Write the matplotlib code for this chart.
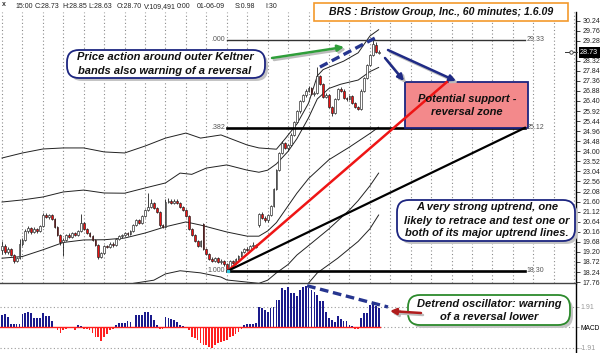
import matplotlib
matplotlib.use("Agg")
import matplotlib.pyplot as plt
from matplotlib.patches import FancyBboxPatch, Rectangle, FancyArrowPatch
import numpy as np

plt.rcParams['font.family'] = ['Liberation Sans', 'DejaVu Sans']

# ---------------- data: BRS 60-minute bars ----------------
opens = [19.30, 19.50, 19.20, 19.35, 19.05, 18.75, 18.90, 19.60, 19.75, 20.20,
         20.35, 20.15, 20.30, 20.20, 20.45, 20.95, 20.85, 20.95, 20.75, 20.40,
         20.00, 19.65, 19.75, 20.00, 19.90, 20.10, 20.00, 20.20, 20.60, 20.30,
         20.10, 19.95, 19.75, 19.55, 18.95, 19.15, 19.50, 19.45, 19.60, 19.55,
         19.80, 19.95, 20.00, 20.10, 20.05, 20.20, 20.50, 20.70, 20.60, 20.90,
         21.20, 21.35, 21.55, 21.30, 21.10, 20.50, 20.40, 21.60, 21.65, 21.55,
         21.65, 21.55, 21.35, 21.20, 20.90, 20.30, 20.00, 19.70, 19.50, 20.55,
         19.35, 19.10, 18.85, 18.75, 18.90, 18.70, 18.75, 18.60, 18.40, 18.75,
         18.65, 18.85, 19.00, 19.20, 19.35, 19.30, 19.50, 19.55, 20.50, 21.00,
         20.80, 20.70, 20.95, 21.40, 22.20, 23.10, 23.90, 24.40, 24.15, 24.30,
         24.80, 25.40, 25.90, 26.40, 26.70, 26.90, 27.00, 26.75, 26.80, 27.60,
         27.20, 26.60, 26.70, 26.10, 25.85, 26.50, 26.95, 26.90, 26.55, 26.50,
         26.65, 26.30, 26.10, 26.00, 26.90, 27.50, 28.10, 28.60, 29.05, 28.70]
highs = [19.70, 19.60, 19.45, 19.40, 19.10, 18.95, 19.80, 19.85, 20.30, 20.45,
         20.40, 20.40, 20.35, 20.50, 21.05, 21.05, 21.00, 21.00, 20.80, 20.45,
         20.05, 19.85, 20.05, 20.10, 20.15, 20.15, 20.25, 21.00, 20.65, 20.35,
         20.15, 20.00, 19.80, 19.60, 19.20, 19.55, 19.55, 19.65, 19.65, 19.85,
         20.00, 20.05, 20.15, 20.15, 20.25, 20.55, 20.75, 20.75, 20.95, 21.25,
         22.00, 21.70, 21.60, 21.35, 21.15, 20.55, 21.70, 21.75, 21.70, 21.70,
         21.70, 21.60, 21.40, 21.25, 20.95, 20.35, 20.05, 19.75, 19.75, 20.60,
         19.40, 19.15, 18.95, 18.95, 18.95, 18.85, 18.80, 18.65, 18.80, 18.80,
         18.90, 19.05, 19.25, 19.40, 19.45, 19.55, 19.65, 19.60, 21.05, 21.10,
         20.90, 21.00, 21.45, 22.25, 23.15, 23.95, 24.50, 24.45, 24.35, 24.85,
         25.45, 25.95, 26.45, 26.75, 26.95, 27.10, 27.05, 26.90, 28.00, 27.65,
         27.25, 26.80, 26.75, 26.15, 26.55, 27.00, 27.05, 26.95, 26.60, 26.70,
         26.70, 26.35, 26.15, 26.95, 27.55, 28.15, 28.65, 29.33, 29.20, 28.85]
lows = [19.10, 19.10, 19.10, 19.00, 18.65, 18.70, 18.85, 19.50, 19.70, 20.10,
        20.05, 20.10, 20.10, 20.15, 20.40, 20.80, 20.75, 20.70, 20.35, 19.95,
        19.55, 19.00, 19.70, 19.85, 19.85, 19.95, 19.95, 20.15, 20.25, 20.05,
        19.90, 19.70, 19.50, 18.85, 18.90, 19.10, 19.40, 19.40, 19.45, 19.50,
        19.75, 19.85, 19.95, 19.95, 20.00, 20.15, 20.45, 20.55, 20.55, 20.85,
        21.15, 21.30, 21.25, 21.05, 20.40, 20.35, 20.35, 21.55, 21.50, 21.50,
        21.50, 21.30, 21.15, 20.85, 20.25, 19.95, 19.65, 19.45, 19.45, 19.30,
        19.05, 18.80, 18.70, 18.70, 18.65, 18.60, 18.55, 18.30, 18.35, 18.60,
        18.60, 18.80, 18.95, 19.15, 19.25, 19.25, 19.45, 19.40, 20.40, 20.75,
        20.65, 20.65, 20.90, 21.35, 22.15, 23.05, 23.85, 24.10, 24.05, 24.25,
        24.75, 25.35, 25.85, 26.35, 26.60, 26.85, 26.70, 26.65, 26.75, 27.15,
        26.55, 26.55, 26.05, 25.70, 25.80, 26.45, 26.85, 26.50, 26.40, 26.45,
        26.25, 26.05, 25.95, 25.95, 26.85, 27.45, 28.05, 28.55, 28.70, 28.63]
closes = [19.50, 19.20, 19.35, 19.05, 18.75, 18.90, 19.60, 19.75, 20.20, 20.35,
          20.15, 20.30, 20.20, 20.45, 20.95, 20.85, 20.95, 20.75, 20.40, 20.00,
          19.65, 19.75, 20.00, 19.90, 20.10, 20.00, 20.20, 20.60, 20.30, 20.10,
          19.95, 19.75, 19.55, 18.95, 19.15, 19.50, 19.45, 19.60, 19.55, 19.80,
          19.95, 20.00, 20.10, 20.05, 20.20, 20.50, 20.70, 20.60, 20.90, 21.20,
          21.35, 21.55, 21.30, 21.10, 20.50, 20.40, 21.60, 21.65, 21.55, 21.65,
          21.55, 21.35, 21.20, 20.90, 20.30, 20.00, 19.70, 19.50, 19.70, 19.35,
          19.10, 18.85, 18.75, 18.90, 18.70, 18.75, 18.60, 18.40, 18.75, 18.65,
          18.85, 19.00, 19.20, 19.35, 19.30, 19.50, 19.55, 19.45, 21.00, 20.80,
          20.70, 20.95, 21.40, 22.20, 23.10, 23.90, 24.40, 24.15, 24.30, 24.80,
          25.40, 25.90, 26.40, 26.70, 26.90, 27.00, 26.75, 26.80, 27.60, 27.20,
          26.60, 26.70, 26.10, 25.85, 26.50, 26.95, 26.90, 26.55, 26.50, 26.65,
          26.30, 26.10, 26.00, 26.90, 27.50, 28.10, 28.60, 29.10, 28.75, 28.73]

# detrend (MACD) oscillator histogram
hist = [1.15, 1.25, 0.95, 0.31, 0.31, 0.31, 0.31, 1.25, 1.37, 1.46,
        1.37, 0.84, 0.84, 0.84, 1.37, 1.05, 1.05, 0.62, 0.02, -0.25,
        -0.50, -0.25, -0.12, 0.00, 0.00, -0.25, 0.22, 0.15, -0.12, -0.18,
        -0.25, -0.55, -0.87, -0.93, -1.24, -0.87, -0.60, -0.25, -0.20, 0.22,
        0.44, 0.44, 0.44, 0.62, 0.50, 0.02, 1.15, 1.15, 1.15, 1.46,
        1.46, 1.15, 0.68, 0.22, -0.20, -0.20, 0.93, 0.84, 0.75, 0.68,
        0.52, 0.20, 0.10, -0.10, -0.25, -0.87, -1.00, -1.20, -1.45, -1.65,
        -1.65, -1.85, -1.96, -1.65, -1.50, -1.35, -1.30, -1.20, -0.90, -0.80,
        -0.60, -0.40, -0.15, 0.22, 0.31, 0.31, 0.31, 0.44, 1.87, 1.75,
        1.60, 1.46, 1.80, 1.90, 2.55, 2.55, 3.60, 3.50, 3.70, 3.20,
        3.15, 2.90, 3.50, 3.75, 3.85, 3.60, 3.45, 3.30, 3.00, 2.40,
        2.40, 1.46, 0.84, 0.70, 0.52, 1.05, 0.75, 0.60, 0.60, 0.21,
        0.10, -0.20, -0.20, 0.84, 1.30, 1.30, 2.08, 2.15, 2.00, 1.80]

# Keltner band lines (bar index, price)
kel_up2_i = [0, 7, 14, 21, 28, 35, 42, 49, 56, 63, 68, 75, 84, 88, 94, 97, 101, 105, 108, 110, 117, 122, 126, 129]
kel_up2_v = [23.68, 23.92, 24.11, 24.16, 24.16, 23.97, 23.92, 24.25, 24.63, 24.87, 24.63, 24.78, 24.30, 24.16,
             24.10, 24.60, 25.30, 26.30, 27.60, 27.90, 28.30, 28.70, 29.50, 29.80]
kel_up1_i = [0, 7, 14, 21, 28, 35, 42, 49, 56, 61, 65, 70, 77, 84, 88, 91, 94, 98, 101, 105, 108, 112, 116, 122, 126, 129]
kel_up1_v = [21.58, 21.68, 21.82, 22.06, 22.15, 22.01, 22.00, 22.25, 22.49, 22.96, 22.90, 23.20, 23.35, 23.10,
             23.00, 23.10, 23.40, 24.00, 24.60, 25.60, 26.50, 27.00, 27.20, 27.40, 27.80, 28.00]
kel_mid_i = [0, 7, 14, 21, 28, 35, 42, 49, 56, 63, 68, 77, 84, 88, 91, 94, 98, 101, 105, 112, 119, 126, 129]
kel_mid_v = [18.90, 18.98, 19.30, 19.65, 19.77, 19.78, 19.86, 20.10, 20.40, 20.63, 20.48, 20.15, 19.95, 19.95,
             20.20, 20.60, 21.40, 22.00, 22.70, 23.60, 24.20, 24.85, 25.15]
kel_dn1_i = [0, 42, 45, 52, 56, 61, 68, 75, 77, 88, 91, 94, 98, 101, 105, 112, 119, 122, 126, 129]
kel_dn1_v = [17.00, 17.50, 17.70, 17.85, 18.15, 18.30, 18.20, 18.00, 17.86, 17.70, 17.85, 18.20, 18.60, 19.05,
             19.50, 20.30, 21.20, 21.65, 22.35, 22.96]
kel_dn2_i = [0, 91, 98, 104, 108, 115, 122, 126, 129]
kel_dn2_v = [15.50, 15.50, 16.60, 17.55, 18.20, 18.90, 19.70, 20.30, 20.96]

# Fibonacci retracement levels and trend-line anchors
fib_names = ['.000', '.382', '1.000']
fib_levels = [29.33, 25.12, 18.30]
fib_span = (77.0, 179.1)
low_pt = (77.4, 18.30)
red_end = (152.4, 27.31)
black_end = (179.1, 25.12)
price_dash = [(108.9, 28.02), (127.7, 29.40)]
osc_dash = [(104.5, 3.85), (132.2, 1.88)]
zone_x = (138.0, 180.1)
zone_y = (25.12, 27.31)

price_ticks = [30.24, 29.76, 29.28, 28.32, 27.84, 27.36, 26.88, 26.40, 25.92, 25.44, 24.96,
               24.48, 24.00, 23.52, 23.04, 22.56, 22.08, 21.60, 21.12, 20.64, 20.16, 19.68,
               19.20, 18.72, 18.24, 17.76]
last_price = 28.73
osc_level = 1.91

header = [("15:00", 15), ("C:28.73", 35), ("H:28.85", 62), ("L:28.63", 88), ("O:28.70", 117),
          ("V:109,491", 144), ("0:00", 177), ("01-06-09", 197), ("S:0.98", 235), ("I:30", 265)]

# ---------------- figure ----------------
W, H = 600, 353
fig = plt.figure(figsize=(6, 3.53), dpi=100)
XL = (-0.685, 196.6)

axp = fig.add_axes([0, 1 - 283 / H, 576 / W, (283 - 12) / H])
axm = fig.add_axes([0, 0, 576 / W, 69 / H])

n = len(closes)
idx = np.arange(n)
o = np.array(opens); c = np.array(closes); hi = np.array(highs); lo = np.array(lows)

# price panel
axp.set_xlim(*XL)
axp.set_ylim(17.716, 30.646)
for gx in range(0, 197, 7):
    axp.axvline(gx, color='#8c8c8c', lw=0.8, ls=(0, (1, 2.2)), zorder=0)

for xs, ys in [(kel_up2_i, kel_up2_v), (kel_up1_i, kel_up1_v), (kel_mid_i, kel_mid_v),
               (kel_dn1_i, kel_dn1_v), (kel_dn2_i, kel_dn2_v)]:
    axp.plot(xs, ys, color='#222222', lw=0.7, zorder=1)

axp.vlines(idx, lo, hi, color='#202020', lw=0.6, zorder=2)
up = c >= o
axp.bar(idx[up], (c - o)[up], bottom=o[up], width=0.62, color='white', edgecolor='#202020', lw=0.45, zorder=3)
axp.bar(idx[~up], (c - o)[~up], bottom=o[~up], width=0.62, color='#ee1111', edgecolor='#202020', lw=0.45, zorder=3)

# fib lines
for name, lev in zip(fib_names, fib_levels):
    lw = 1.0 if name == '.000' else 1.9
    axp.plot(fib_span, [lev, lev], color='black' if name != '.000' else '#333333', lw=lw, zorder=4)
    axp.text(fib_span[0] - 0.5, lev, name, ha='right', va='center', fontsize=5, color='#555555', zorder=5)
    axp.text(fib_span[1] + 0.6, lev, '%.2f' % lev, ha='left', va='center', fontsize=5, color='#555555', zorder=5)

# support zone box
axp.add_patch(Rectangle((zone_x[0], zone_y[0]), zone_x[1] - zone_x[0], zone_y[1] - zone_y[0],
                        facecolor='#f3898b', edgecolor='#1c2580', lw=1.3, zorder=4))
# trend lines
axp.plot([low_pt[0], red_end[0]], [low_pt[1], red_end[1]], color='#ee1515', lw=1.8, zorder=5)
axp.plot([low_pt[0], black_end[0]], [low_pt[1], black_end[1]], color='black', lw=1.6, zorder=5)
axp.plot([low_pt[0]], [low_pt[1]], 's', ms=2, color='#33c8e0', zorder=6)
axp.plot([p[0] for p in price_dash], [p[1] for p in price_dash], color='#26358f', lw=2.4,
         ls=(0, (2.6, 1.4)), zorder=6)

axp.yaxis.tick_right()
axp.set_yticks(price_ticks)
axp.set_yticklabels(['%.2f' % t for t in price_ticks])
axp.tick_params(axis='y', length=3, width=0.6, pad=1.5, labelsize=5, colors='#222222', direction='out')
axp.set_xticks([])
for s in ['top', 'left']:
    axp.spines[s].set_visible(False)
axp.spines['right'].set_linewidth(1.0)
axp.spines['bottom'].set_color('#444444')
axp.spines['bottom'].set_linewidth(1.0)
axp.patch.set_alpha(0)

# oscillator panel
axm.set_xlim(*XL)
axm.set_ylim(-2.382, 4.013)
hv = np.array(hist)
pos = hv >= 0
axm.bar(idx[pos], hv[pos], width=0.6, color='#1a1a8c', lw=0, zorder=2)
axm.bar(idx[~pos], hv[~pos], width=0.6, color='#ff2020', lw=0, zorder=2)
axm.plot([XL[0], n - 0.5], [0, 0], color='#ff2020', lw=1.0, zorder=3)
axm.plot([n - 0.5, XL[1]], [0, 0], color='#9a9a9a', lw=0.8, ls=(0, (1, 2.2)), zorder=1)
for lv in (osc_level, -osc_level):
    axm.axhline(lv, color='#9a9a9a', lw=0.8, ls=(0, (1, 2.2)), zorder=1)
axm.plot([p[0] for p in osc_dash], [p[1] for p in osc_dash], color='#26358f', lw=2.4,
         ls=(0, (2.6, 1.4)), zorder=4)
axm.yaxis.tick_right()
axm.set_yticks([osc_level, 0, -osc_level])
axm.set_yticklabels(['%.2f' % osc_level, 'MACD', '-%.2f' % osc_level])
axm.tick_params(axis='y', length=2, width=0.6, pad=1.0, labelsize=5, direction='out', colors='#999999')
axm.get_yticklabels()[1].set_color('black')
axm.get_yticklabels()[1].set_fontsize(4.8)
axm.set_xticks([])
for s in ['top', 'left', 'bottom']:
    axm.spines[s].set_visible(False)
axm.spines['right'].set_linewidth(1.0)
axm.patch.set_alpha(0)

# ---------------- annotation overlay (pixel coordinates) ----------------
ov = fig.add_axes([0, 0, 1, 1], zorder=10)
ov.set_xlim(0, W)
ov.set_ylim(H, 0)
ov.axis('off')
ov.patch.set_alpha(0)

BI = dict(fontweight='bold', fontstyle='italic', color='#111111')

# header
ov.text(4, 5, 'x', fontsize=5, fontweight='bold', ha='center', va='center', color='#333333')
for t, x in header:
    ov.text(x, 6.5, t, fontsize=5, ha='left', va='center', color='#222222')

# title
ov.add_patch(Rectangle((314, 3), 254, 18, facecolor='white', edgecolor='#f39a2c', lw=1.2))
ov.text(441, 12.3, 'BRS : Bristow Group, Inc., 60 minutes; 1.6.09', ha='center', va='center',
        fontsize=7.6, **BI)

# last-price marker
ov.add_patch(Rectangle((578.5, 46.5), 21, 11, facecolor='black', edgecolor='none'))
ov.text(589, 52.2, '28.73', ha='center', va='center', fontsize=5.2, color='white')
ov.plot([565, 577], [52.2, 52.2], color='#333333', lw=0.7)
ov.plot([571], [52.2], 'o', ms=2.5, mfc='white', mec='#333333', mew=0.6)


def callout(x0, y0, w, h, ec, lines, cx, ys, fs=8.0):
    ov.add_patch(FancyBboxPatch((x0 + 3, y0 + 3), w, h, boxstyle='round,pad=0,rounding_size=12',
                                facecolor='#c4c4c4', edgecolor='none'))
    ov.add_patch(FancyBboxPatch((x0, y0), w, h, boxstyle='round,pad=0,rounding_size=12',
                                facecolor='white', edgecolor=ec, lw=1.3))
    for t, y in zip(lines, ys):
        ov.text(cx, y, t, ha='center', va='center', fontsize=fs, **BI)


callout(67, 50, 198, 28, '#1c2580', ['Price action around outer Keltner', 'bands also warning of a reversal'],
        165, [57.5, 71])
callout(397, 200, 178, 41, '#1c2580',
        ['A very strong uptrend, one', 'likely to retrace and test one or', 'both of its major uptrend lines.'],
        487, [207, 220.5, 233.5])
callout(408, 295, 162, 30, '#2c8a2c', ['Detrend oscillator: warning', 'of a reversal lower'],
        489, [304, 317.5])

ov.text(467, 99, 'Potential support -', ha='center', va='center', fontsize=8.0, **BI)
ov.text(467, 112, 'reversal zone', ha='center', va='center', fontsize=8.0, **BI)


def arrow(p0, p1, color):
    sh = FancyArrowPatch((p0[0] + 2, p0[1] + 2), (p1[0] + 2, p1[1] + 2), arrowstyle='-|>',
                         mutation_scale=9, lw=1.8, color='#bcbcbc', shrinkA=0, shrinkB=0)
    ov.add_patch(sh)
    ar = FancyArrowPatch(p0, p1, arrowstyle='-|>', mutation_scale=9, lw=1.8, color=color,
                         shrinkA=0, shrinkB=0)
    ov.add_patch(ar)


arrow((272, 58), (344, 47), '#2f9e3a')
arrow((388, 50), (456, 81), '#1f2a85')
arrow((385, 58), (404, 81), '#1f2a85')
arrow((421, 313), (390, 311), '#b01c1c')

fig.savefig('out.png', dpi=100)
